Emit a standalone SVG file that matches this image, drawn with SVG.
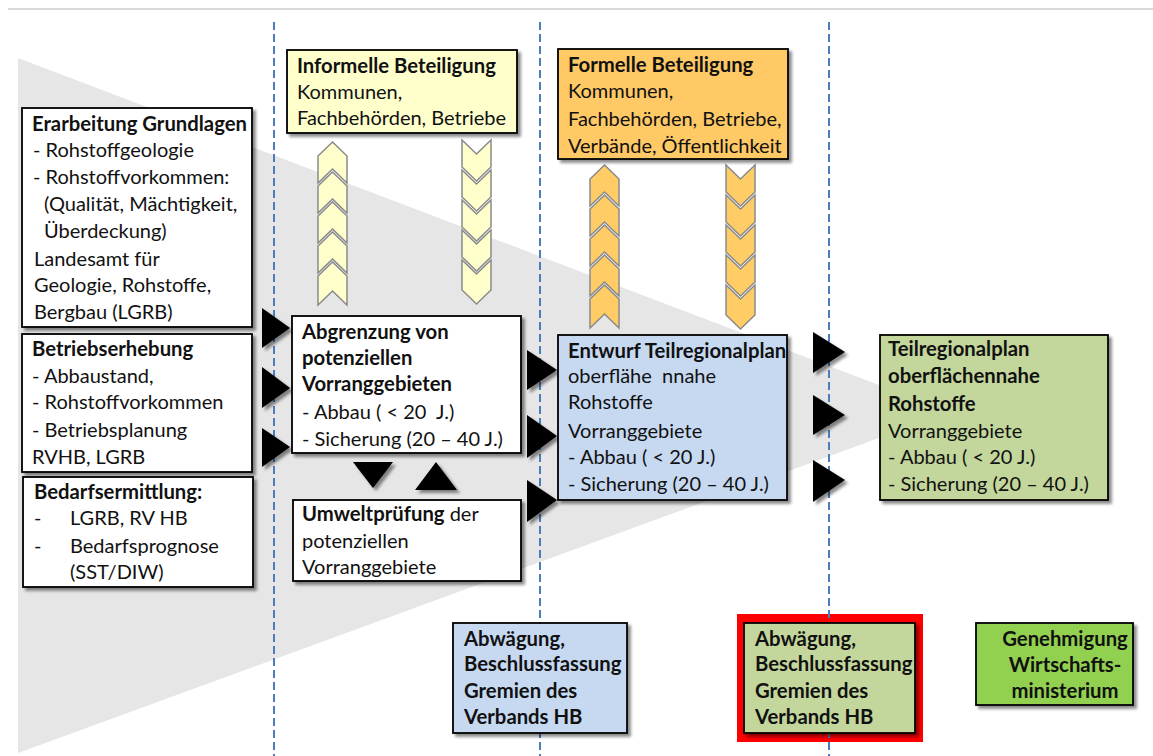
<svg xmlns="http://www.w3.org/2000/svg" width="1153" height="756" viewBox="0 0 1153 756">
<defs>
<style>
text{font-family:Lato,"Liberation Sans",sans-serif;font-size:20px;fill:#111}
.b{font-weight:bold;font-size:20.3px}
.box{stroke:#000;stroke-width:1.8}
.dash{stroke:#4A7EBB;stroke-width:2;stroke-dasharray:8,4;fill:none}
.chu{fill:#FFFFCC;stroke:#8a8a8a;stroke-width:1.5}
.cho{fill:#FFCC66;stroke:#8a8a8a;stroke-width:1.5}
.tri{fill:#000}
</style>
<filter id="sh" x="-10%" y="-10%" width="130%" height="130%">
<feDropShadow dx="3" dy="3" stdDeviation="1.8" flood-color="#000" flood-opacity="0.45"/>
</filter>
<g id="up">
<polygon points="14.5,0 29,14 29,41 14.5,27 0,41 0,14"/>
<polygon points="14.5,30 29,44 29,71 14.5,57 0,71 0,44"/>
<polygon points="14.5,60 29,74 29,101 14.5,87 0,101 0,74"/>
<polygon points="14.5,90 29,104 29,131 14.5,117 0,131 0,104"/>
<polygon points="14.5,120 29,134 29,163 14.5,149 0,163 0,134"/>
</g>
<g id="down">
<polygon points="0,0 14.5,14 29,0 29,27 14.5,41 0,27"/>
<polygon points="0,30 14.5,44 29,30 29,57 14.5,71 0,57"/>
<polygon points="0,60 14.5,74 29,60 29,87 14.5,101 0,87"/>
<polygon points="0,90 14.5,104 29,90 29,117 14.5,131 0,117"/>
<polygon points="0,120 14.5,134 29,120 29,150 14.5,164 0,150"/>
</g>
</defs>
<rect width="1153" height="756" fill="#fff"/>
<g id="background">
<line x1="8" y1="9" x2="1153" y2="9" stroke="#d9d9d9" stroke-width="2"/>
<polygon points="18,58 950,412 18,753" fill="#e6e6e6"/>
<rect x="737" y="614" width="186" height="128" fill="#FF0000"/>
<line class="dash" x1="274" y1="22" x2="274" y2="756"/>
<line class="dash" x1="540" y1="22" x2="540" y2="756"/>
<line class="dash" x1="829" y1="22" x2="829" y2="756"/>
</g>
<g id="connectors">
<g class="chu">
<use href="#up" transform="translate(318,142)"/>
<use href="#down" transform="translate(462,140)"/>
</g>
<g class="cho">
<use href="#up" transform="translate(590,165)"/>
<use href="#down" transform="translate(726,165)"/>
</g>
<g class="tri" filter="url(#sh)">
<polygon points="262,308 290,328 262,348"/>
<polygon points="262,367 290,388 262,408"/>
<polygon points="262,428 290,447 262,467"/>
<polygon points="527,350 557,370 527,390"/>
<polygon points="527,415 557,436 527,458"/>
<polygon points="527,480 557,500 527,522"/>
<polygon points="813,332 845,352 813,373"/>
<polygon points="813,395 845,415 813,435"/>
<polygon points="813,460 845,480 813,502"/>
<polygon points="353,462 393,462 373,488"/>
<polygon points="415,490 457,490 436,462"/>
</g>
</g>
<g id="grundlagen">
<rect class="box" x="22" y="108" width="230" height="219" fill="#fff" filter="url(#sh)"/>
<text x="32" y="131" class="b">Erarbeitung Grundlagen</text>
<text x="33" y="157">- Rohstoffgeologie</text>
<text x="33" y="184">- Rohstoffvorkommen:</text>
<text x="44" y="211">(Qualität, Mächtigkeit,</text>
<text x="44" y="238">Überdeckung)</text>
<text x="34" y="266">Landesamt für</text>
<text x="34" y="292">Geologie, Rohstoffe,</text>
<text x="34" y="319">Bergbau (LGRB)</text>
</g>
<g id="betriebserhebung">
<rect class="box" x="22" y="334" width="230" height="138" fill="#fff" filter="url(#sh)"/>
<text x="32" y="356" class="b">Betriebserhebung</text>
<text x="32" y="383">- Abbaustand,</text>
<text x="32" y="409">- Rohstoffvorkommen</text>
<text x="32" y="437">- Betriebsplanung</text>
<text x="32" y="464">RVHB, LGRB</text>
</g>
<g id="bedarf">
<rect class="box" x="23" y="477" width="230" height="110" fill="#fff" filter="url(#sh)"/>
<text x="34" y="499" class="b">Bedarfsermittlung:</text>
<text x="34" y="525">-</text>
<text x="70" y="525">LGRB, RV HB</text>
<text x="34" y="553">-</text>
<text x="70" y="553">Bedarfsprognose</text>
<text x="70" y="579">(SST/DIW)</text>
</g>
<g id="informell">
<rect class="box" x="287" y="50" width="230" height="83" fill="#FFFFCC" filter="url(#sh)"/>
<text x="297" y="73" class="b">Informelle Beteiligung</text>
<text x="297" y="99">Kommunen,</text>
<text x="297" y="125">Fachbehörden, Betriebe</text>
</g>
<g id="formell">
<rect class="box" x="558" y="49" width="230" height="110" fill="#FFC966" filter="url(#sh)"/>
<text x="568" y="72" class="b">Formelle Beteiligung</text>
<text x="568" y="98">Kommunen,</text>
<text x="568" y="126">Fachbehörden, Betriebe,</text>
<text x="568" y="153">Verbände, Öffentlichkeit</text>
</g>
<g id="abgrenzung">
<rect class="box" x="292" y="316" width="229" height="137" fill="#fff" filter="url(#sh)"/>
<text x="302" y="339" class="b">Abgrenzung von</text>
<text x="302" y="365" class="b">potenziellen</text>
<text x="302" y="391" class="b">Vorranggebieten</text>
<text x="302" y="419" xml:space="preserve">- Abbau ( &lt; 20  J.)</text>
<text x="302" y="446">- Sicherung (20 – 40 J.)</text>
</g>
<g id="umwelt">
<rect class="box" x="293" y="500" width="228" height="81" fill="#fff" filter="url(#sh)"/>
<text x="302" y="521"><tspan class="b">Umweltprüfung</tspan> der</text>
<text x="302" y="548">potenziellen</text>
<text x="302" y="574">Vorranggebiete</text>
</g>
<g id="entwurf">
<rect class="box" x="558" y="335" width="229" height="165" fill="#C6D9F1" filter="url(#sh)"/>
<text x="568" y="358" class="b">Entwurf Teilregionalplan</text>
<text x="568" y="383" xml:space="preserve">oberflähe  nnahe</text>
<text x="568" y="409">Rohstoffe</text>
<text x="568" y="438">Vorranggebiete</text>
<text x="568" y="464">- Abbau ( &lt; 20 J.)</text>
<text x="568" y="491">- Sicherung (20 – 40 J.)</text>
</g>
<g id="teilregionalplan">
<rect class="box" x="880" y="335" width="228" height="165" fill="#C3D69B" filter="url(#sh)"/>
<text x="888" y="356" class="b">Teilregionalplan</text>
<text x="888" y="383" class="b">oberflächennahe</text>
<text x="888" y="411" class="b">Rohstoffe</text>
<text x="888" y="438">Vorranggebiete</text>
<text x="888" y="464">- Abbau ( &lt; 20 J.)</text>
<text x="888" y="491">- Sicherung (20 – 40 J.)</text>
</g>
<g id="abwaegung1">
<rect class="box" x="453" y="623" width="174" height="110" fill="#C6D9F1" filter="url(#sh)"/>
<text x="464" y="646" class="b">Abwägung,</text>
<text x="464" y="671" class="b">Beschlussfassung</text>
<text x="464" y="698" class="b">Gremien des</text>
<text x="464" y="724" class="b">Verbands HB</text>
</g>
<g id="abwaegung2">
<rect class="box" x="744" y="623" width="171" height="110" fill="#C3D69B" filter="url(#sh)"/>
<text x="755" y="646" class="b">Abwägung,</text>
<text x="755" y="671" class="b">Beschlussfassung</text>
<text x="755" y="698" class="b">Gremien des</text>
<text x="755" y="724" class="b">Verbands HB</text>
</g>
<g id="genehmigung">
<rect class="box" x="976" y="623" width="157" height="82" fill="#92D050" filter="url(#sh)"/>
<text x="1065" y="646" class="b" text-anchor="middle">Genehmigung</text>
<text x="1065" y="672" class="b" text-anchor="middle">Wirtschafts-</text>
<text x="1065" y="698" class="b" text-anchor="middle">ministerium</text>
</g>
</svg>
